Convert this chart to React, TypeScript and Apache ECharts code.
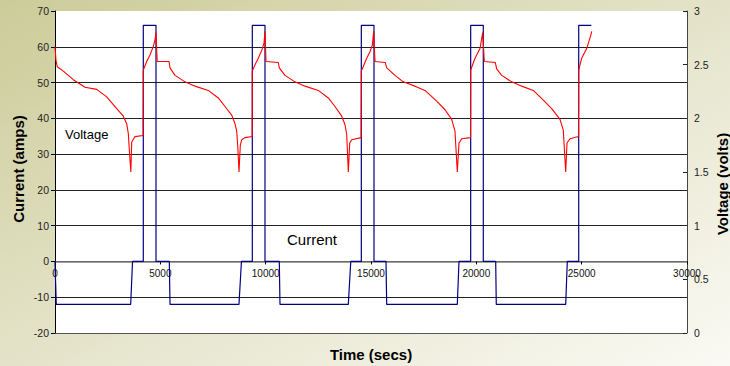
import React, { useEffect, useRef } from "react";
import * as echarts from "echarts";

// X axis ticks (seconds)
const timeTicks = [0, 5000, 10000, 15000, 20000, 25000, 30000];

// Current (amps) vs time (secs)
const currentPoints: [number, number][] = [
  [0, 0], [60, -12], [3593, -12], [3680, 0], [4191, 0], [4191, 66], [4794, 66], [4794, 0], [5426, 0], [5460, -12],
  [8734, -12], [8850, 0], [9366, 0], [9366, 66], [9968, 66], [9968, 0], [10647, 0], [10680, -12],
  [13923, -12], [14040, 0], [14540, 0], [14540, 66], [15142, 66], [15142, 0], [15712, 0], [15745, -12],
  [19097, -12], [19177, 0], [19732, 0], [19732, 66], [20330, 66], [20330, 0], [20919, 0], [20947, -12],
  [24242, -12], [24318, 0], [24860, 0], [24860, 66], [25458, 66],
];

// Voltage (volts) vs time, one array per cycle
const voltageCycle0: [number, number][] = [
  [0, 2.67], [47, 2.54], [109, 2.48], [394, 2.44], [869, 2.36], [1424, 2.29], [1979, 2.27], [2454, 2.2],
  [2848, 2.11], [3242, 2.02], [3403, 1.95], [3479, 1.86], [3527, 1.71], [3600, 1.5], [3641, 1.78],
  [3797, 1.83], [4180, 1.84], [4191, 2.45], [4353, 2.53], [4509, 2.59], [4666, 2.67], [4747, 2.73],
  [4794, 2.8], [4850, 2.53], [5411, 2.53],
];
const voltageCycle1: [number, number][] = [
  [5460, 2.47], [5696, 2.4], [6171, 2.34], [6646, 2.3], [7277, 2.26], [7752, 2.19], [8070, 2.11],
  [8388, 2.03], [8544, 1.95], [8625, 1.88], [8673, 1.75], [8734, 1.5], [8796, 1.75], [8862, 1.8],
  [9019, 1.82], [9360, 1.83], [9366, 2.44], [9494, 2.5], [9651, 2.56], [9826, 2.64], [9921, 2.7],
  [9968, 2.81], [10016, 2.53], [10600, 2.52],
];
const voltageCycle2: [number, number][] = [
  [10647, 2.47], [10918, 2.4], [11392, 2.34], [11867, 2.3], [12498, 2.26], [12973, 2.19], [13291, 2.11],
  [13609, 2.02], [13766, 1.94], [13847, 1.85], [13923, 1.5], [13989, 1.77], [14084, 1.8], [14530, 1.82],
  [14540, 2.44], [14630, 2.48], [14796, 2.56], [14952, 2.62], [15061, 2.68], [15128, 2.81], [15190, 2.53],
  [15680, 2.52],
];
const voltageCycle3: [number, number][] = [
  [15745, 2.47], [16139, 2.4], [16533, 2.34], [17088, 2.3], [17563, 2.26], [18118, 2.16], [18513, 2.08],
  [18830, 1.99], [18987, 1.88], [19097, 1.5], [19177, 1.77], [19305, 1.81], [19725, 1.82], [19732, 2.45],
  [19937, 2.56], [20174, 2.65], [20302, 2.8], [20378, 2.53], [20900, 2.52],
];
const voltageCycle4: [number, number][] = [
  [20967, 2.46], [21204, 2.4], [21679, 2.34], [22153, 2.3], [22704, 2.26], [23178, 2.17], [23577, 2.09],
  [23971, 1.99], [24128, 1.89], [24242, 1.5], [24304, 1.77], [24446, 1.81], [24850, 1.83], [24860, 2.45],
  [25001, 2.56], [25238, 2.65], [25443, 2.78], [25477, 2.81],
];

const FONT = "'Liberation Sans', Arial, Helvetica, sans-serif";

const W = 730;
const H = 366;
const GRID = { left: 55, right: 43, top: 11, bottom: 33 };
const LEFT_MIN = -20;
const LEFT_MAX = 70;

export default function App() {
  const ref = useRef<HTMLDivElement>(null);
  useEffect(() => {
    document.body.style.margin = "0";
    if (!ref.current) return;
    const chart = echarts.init(ref.current, null, { renderer: "svg" });
    const voltage = ([] as [number, number][]).concat(
      voltageCycle0, voltageCycle1, voltageCycle2, voltageCycle3, voltageCycle4
    );
    const gridH = H - GRID.top - GRID.bottom;
    // place the time axis on the zero line of the current axis
    const zeroOffset = -gridH * (0 - LEFT_MIN) / (LEFT_MAX - LEFT_MIN);
    const splitColors = ["#555", "#222", "#222", "#222", "#222", "#222", "#222", "#222", "#222", "rgba(0,0,0,0)"];
    chart.setOption({
      animation: false,
      backgroundColor: {
        type: "linear", x: 0, y: 0, x2: 1, y2: 1,
        colorStops: [
          { offset: 0, color: "#cccb98" },
          { offset: 0.5, color: "#e4e3c9" },
          { offset: 1, color: "#fafaf4" },
        ],
      },
      textStyle: { fontFamily: FONT },
      grid: { ...GRID, show: true, backgroundColor: "#ffffff", borderWidth: 0 },
      xAxis: {
        type: "value",
        position: "bottom",
        offset: zeroOffset,
        min: timeTicks[0],
        max: timeTicks[timeTicks.length - 1],
        interval: timeTicks[1] - timeTicks[0],
        axisLine: { show: true, onZero: false, lineStyle: { color: "#808080", width: 1.5 } },
        axisTick: { show: true, length: 3, lineStyle: { color: "#000" } },
        axisLabel: { fontSize: 10, color: "#111", margin: 7, fontFamily: FONT, formatter: (v: number) => String(v) },
        splitLine: { show: false },
      },
      yAxis: [
        {
          type: "value", min: LEFT_MIN, max: LEFT_MAX, interval: 10, position: "left",
          axisLine: { show: true, lineStyle: { color: "#000", width: 1 } },
          axisTick: { show: true, length: 4, lineStyle: { color: "#000" } },
          axisLabel: { fontSize: 10.5, color: "#222", margin: 6, fontFamily: FONT, formatter: (v: number) => String(v) },
          splitLine: { show: true, lineStyle: { color: splitColors, width: 1 } },
        },
        {
          type: "value", min: 0, max: 3, interval: 0.5, position: "right",
          axisLine: { show: true, lineStyle: { color: "#444", width: 1 } },
          axisTick: { show: true, inside: true, length: 4, lineStyle: { color: "#222" } },
          axisLabel: { fontSize: 10.5, color: "#222", margin: 7, fontFamily: FONT, formatter: (v: number) => String(v) },
          splitLine: { show: false },
        },
      ],
      series: [
        {
          name: "Current", type: "line", yAxisIndex: 0, data: currentPoints, showSymbol: false,
          lineStyle: { color: "#000080", width: 1.2 }, z: 2,
        },
        {
          name: "Voltage", type: "line", yAxisIndex: 1, data: voltage, showSymbol: false,
          lineStyle: { color: "#ff0000", width: 1.1 }, z: 3,
        },
      ],
      graphic: [
        { type: "text", left: 65, top: 128, style: { text: "Voltage", fontSize: 13, fill: "#000", fontFamily: FONT } },
        { type: "text", left: 287, top: 232, style: { text: "Current", fontSize: 15, fill: "#000", fontFamily: FONT } },
        {
          type: "text", x: 371, y: 354,
          style: { text: "Time (secs)", fontSize: 15, fontWeight: "bold", fill: "#000", fontFamily: FONT, align: "center", verticalAlign: "middle" },
        },
        {
          type: "text", x: 18, y: 169, rotation: Math.PI / 2,
          style: { text: "Current (amps)", fontSize: 15, fontWeight: "bold", fill: "#000", fontFamily: FONT, align: "center", verticalAlign: "middle" },
        },
        {
          type: "text", x: 722, y: 184, rotation: Math.PI / 2,
          style: { text: "Voltage (volts)", fontSize: 15, fontWeight: "bold", fill: "#000", fontFamily: FONT, align: "center", verticalAlign: "middle" },
        },
      ],
    });
    return () => chart.dispose();
  }, []);
  return <div ref={ref} style={{ width: W, height: H }} />;
}
